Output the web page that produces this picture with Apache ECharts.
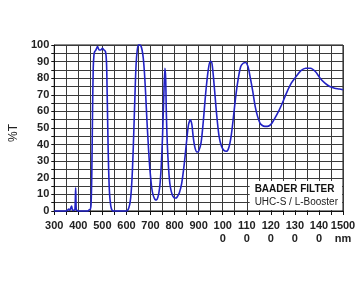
<!DOCTYPE html>
<html>
<head>
<meta charset="utf-8">
<script src="https://cdn.jsdelivr.net/npm/echarts@6/dist/echarts.min.js"></script>
<style>
html,body{margin:0;padding:0;background:#fff;}
#chart{width:360px;height:300px;}
</style>
</head>
<body>
<div id="chart"></div>
<script>
// wavelength (nm)
const wavelengths = [
  300,340,350,355,360,364,368,372,375,378,382,386,389,391,393,396,400,440,446,450,
  453,456,459,462,465,468,473,480,487,493,500,507,513,517,520,523,526,530,535,540,545,
  600,605,610,615,620,625,630,635,640,645,650,655,660,665,670,675,680,685,690,695,700,
  705,710,715,720,725,730,735,740,745,750,755,760,763,766,770,775,780,785,790,795,800,
  805,810,820,830,840,850,858,866,872,878,885,893,900,910,920,930,940,948,953,958,965,
  975,985,995,1005,1015,1025,1035,1045,1055,1065,1075,1085,1095,1105,1115,1125,1135,
  1145,1155,1165,1175,1185,1195,1205,1225,1245,1265,1285,1305,1325,1345,1365,1385,1405,
  1425,1445,1465,1485,1500
];
// transmission (%T)
const transmission = [
  0,0,0,0.5,1.2,0.4,1.5,3,1,0.4,0.5,1,14,2,0.5,0.2,0,0,0.8,1,
  4,22,58,86,94,96,97,99,97,97,98,97,96,90,70,45,25,10,3,0.5,0,
  0,0.5,2,5,12,25,45,68,88,97,100,100,99.5,97,92,83,70,55,42,30,21,
  14,10,8,6.8,6.7,8,11,17,28,45,68,86,80,58,40,26,17,12.6,10,8.5,7.8,
  7.8,8.3,11,17,28,42,52,55,52,44,38,35.5,36,41,55,72,85,90,90,86,75,
  58,45,39,36.5,36,38,45,57,70,80,87,89,89.5,87,80,72,63,
  57,53,51.5,51,51,51.5,53,58,64,71,77,81,84.5,86,86,84,80,
  77,75,74,73.5,73
];
const xLabelValues = [300,400,500,600,700,800,900,1000,1100,1200,1300,1400,1500];
const xLabelTexts = ['300','400','500','600','700','800','900','100\n0','110\n0','120\n0','130\n0','140\n0','1500\nnm'];
const yLabelValues = [0,10,20,30,40,50,60,70,80,90,100];
const yLabelTexts = ['0','10','20','30','40','50','60','70','80','90','100'];
const yAxisName = '%T';
const legendTitle = 'BAADER FILTER';
const legendSub = 'UHC-S / L-Booster';

const data = wavelengths.map((w,i)=>[w, transmission[i]]);
const FONT = "'Liberation Sans Narrow','Liberation Sans',Arial,sans-serif";

const chart = echarts.init(document.getElementById('chart'), null, {renderer:'canvas'});
chart.setOption({
  animation:false,
  backgroundColor:'#fff',
  grid:{left:48,right:17,top:45,bottom:89,show:true,borderColor:'#111',borderWidth:1,backgroundColor:'transparent'},
  title:{
    text:legendTitle, subtext:legendSub, right:18, bottom:90, itemGap:2,
    backgroundColor:'#fff', padding:[3,4,2,5], textAlign:'left',
    textStyle:{fontFamily:"'Liberation Sans',Arial,sans-serif",fontSize:10,fontWeight:'bold',color:'#111',lineHeight:11},
    subtextStyle:{fontFamily:"'Liberation Sans',Arial,sans-serif",fontSize:10,color:'#222',lineHeight:11}
  },
  xAxis:{
    type:'value', min:300, max:1500, interval:50,
    axisLine:{show:true,onZero:false,lineStyle:{color:'#111',width:1}},
    axisTick:{show:true,length:4,inside:false,lineStyle:{color:'#111'}},
    splitLine:{show:true,lineStyle:{color:'#3a3a3a',width:1}},
    axisLabel:{
      margin:8, fontFamily:FONT, fontSize:11, fontWeight:'bold', color:'#222', lineHeight:13,
      formatter:function(v){const i=xLabelValues.indexOf(v);return i>=0?xLabelTexts[i]:'';},
      showMinLabel:true, showMaxLabel:true, hideOverlap:false
    }
  },
  yAxis:{
    type:'value', min:0, max:100, interval:5,
    name:yAxisName, nameLocation:'middle', nameGap:30, nameRotate:90,
    nameTextStyle:{fontFamily:"'Liberation Sans',Arial,sans-serif",fontSize:12,color:'#222',padding:[0,0,0,-10]},
    axisLine:{show:true,lineStyle:{color:'#111',width:1}},
    axisTick:{show:true,length:3,lineStyle:{color:'#111'}},
    splitLine:{show:true,lineStyle:{color:'#3a3a3a',width:1}},
    axisLabel:{
      margin:5, fontFamily:FONT, fontSize:11, fontWeight:'bold', color:'#222',
      formatter:function(v){const i=yLabelValues.indexOf(v);return i>=0?yLabelTexts[i]:'';}
    }
  },
  series:[{
    type:'line', data:data, smooth:0.3, showSymbol:false, symbol:'none',
    lineStyle:{color:'#2222c4',width:1.6}, z:3, clip:false
  }]
});
</script>
</body>
</html>
